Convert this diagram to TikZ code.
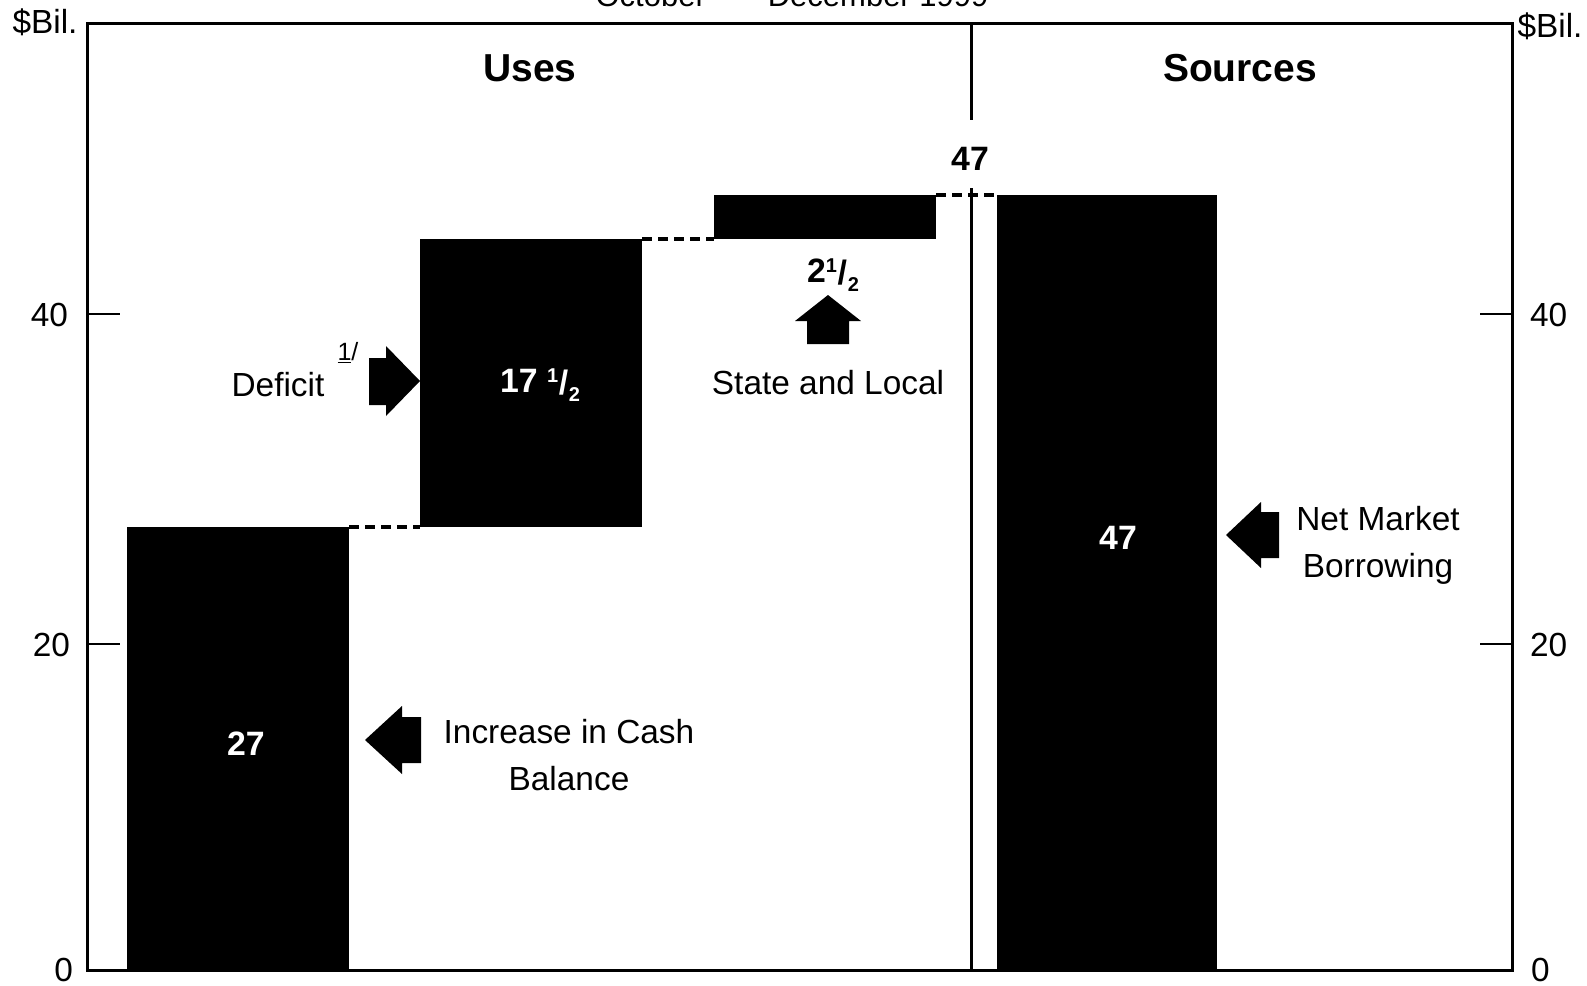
\documentclass[tikz,border=0pt]{standalone}
\usepackage{fontspec}
\setmainfont{Liberation Sans}
\usetikzlibrary{fit}
\newcommand\chartfont{\fontsize{16.7}{23.5}\selectfont}
\newcommand\titlefont{\fontsize{15.5}{18}\selectfont}
\newcommand\headfont{\fontsize{19.5}{23}\selectfont\bfseries}
\newcommand\numfont{\fontsize{16.9}{20}\selectfont\bfseries}
\newcommand\notefont{\fontsize{12.5}{14}\selectfont}
\newcommand\halfsign{\raisebox{0.6ex}{\fontsize{10}{11}\selectfont 1}\kern0.02em
  \raisebox{-0.1ex}{/}\kern0.02em\raisebox{-0.5ex}{\fontsize{10}{11}\selectfont 2}}
\tikzset{
  frame/.style={line width=1.5pt},
  tick/.style={line width=1pt},
  bar/.style={fill=black, inner sep=0pt, outer sep=0pt},
  barlabel/.style={text=white, font=\numfont},
  link/.style={line width=1.6pt, dash pattern=on 5pt off 3pt},
  blockarrow/.style={fill=black},
  label/.style={font=\chartfont, align=center}
}
\begin{document}
\begin{tikzpicture}[x=0.5pt,y=-0.5pt]
\useasboundingbox (0,0) rectangle (1587,986);
% title, cut at the top edge
\node[anchor=base, font=\titlefont] (title) at (792,6) {October\enspace—\enspace December 1999};
% frame and scale
\draw[frame] (87,23) rectangle (1512,970);
\draw[frame] (971,23) -- (971,120);
\draw[frame] (971,188) -- (971,970);
\draw[tick] (87,314) -- (120,314);
\draw[tick] (87,644) -- (120,644);
\draw[tick] (1480,314) -- (1512,314);
\draw[tick] (1480,644) -- (1512,644);
\node[font=\chartfont, anchor=base] (unitL) at (45,33) {\$Bil.};
\node[font=\chartfont, anchor=base] (unitR) at (1550,37) {\$Bil.};
\node[font=\chartfont, anchor=east] (yL40) at (75,315) {40};
\node[font=\chartfont, anchor=east] (yL20) at (77,645) {20};
\node[font=\chartfont, anchor=base east] (yL0) at (80,981) {0};
\node[font=\chartfont, anchor=west] (yR40) at (1523,315) {40};
\node[font=\chartfont, anchor=west] (yR20) at (1523,645) {20};
\node[font=\chartfont, anchor=base west] (yR0) at (1524,981) {0};
\node[font=\headfont] (uses) at (530,68) {Uses};
\node[font=\headfont] (sources) at (1240,68) {Sources};
% bars
\node[bar, fit={(127,527) (349,970)}] (cash) {};
\node[bar, fit={(420,239) (642,527)}] (deficit) {};
\node[bar, fit={(714,195) (936,239)}] (state) {};
\node[bar, fit={(997,195) (1217,970)}] (market) {};
\draw[link] (cash.north east) -- (deficit.south west);
\draw[link] (deficit.north east) -- (state.south west);
\draw[link] (state.north east) -- (market.north west);
\node[barlabel] (cashval) at (246,744) {27};
\node[barlabel] (deficitval) at (540,385) {17 \halfsign};
\node[barlabel] (marketval) at (1118,538) {47};
\node[font=\numfont] (stateval) at (833,275) {2\halfsign};
\node[font=\numfont] (total) at (970,159) {47};
% block arrows
\fill[blockarrow] (420,381) -- (386,346) -- (386,358) -- (369,358)
  -- (369,405) -- (386,405) -- (386,416) -- cycle;
\fill[blockarrow] (828,295) -- (861,321) -- (849,321) -- (849,344)
  -- (807,344) -- (807,321) -- (795,321) -- cycle;
\fill[blockarrow] (365,740) -- (402,706) -- (402,717) -- (421,717)
  -- (421,763) -- (402,763) -- (402,774) -- cycle;
\fill[blockarrow] (1226,535) -- (1261,502) -- (1261,512) -- (1279,512)
  -- (1279,558) -- (1261,558) -- (1261,568) -- cycle;
% texts
\node[label] (deficittext) at (278,385) {Deficit};
\node[font=\notefont] (note) at (348,353) {\underline{1}/};
\node[label] (statetext) at (828,383) {State and Local};
\node[label] (cashtext) at (569,755) {Increase in Cash\\Balance};
\node[label] (markettext) at (1378,545) {Net Market\\Borrowing};
\end{tikzpicture}
\end{document}
